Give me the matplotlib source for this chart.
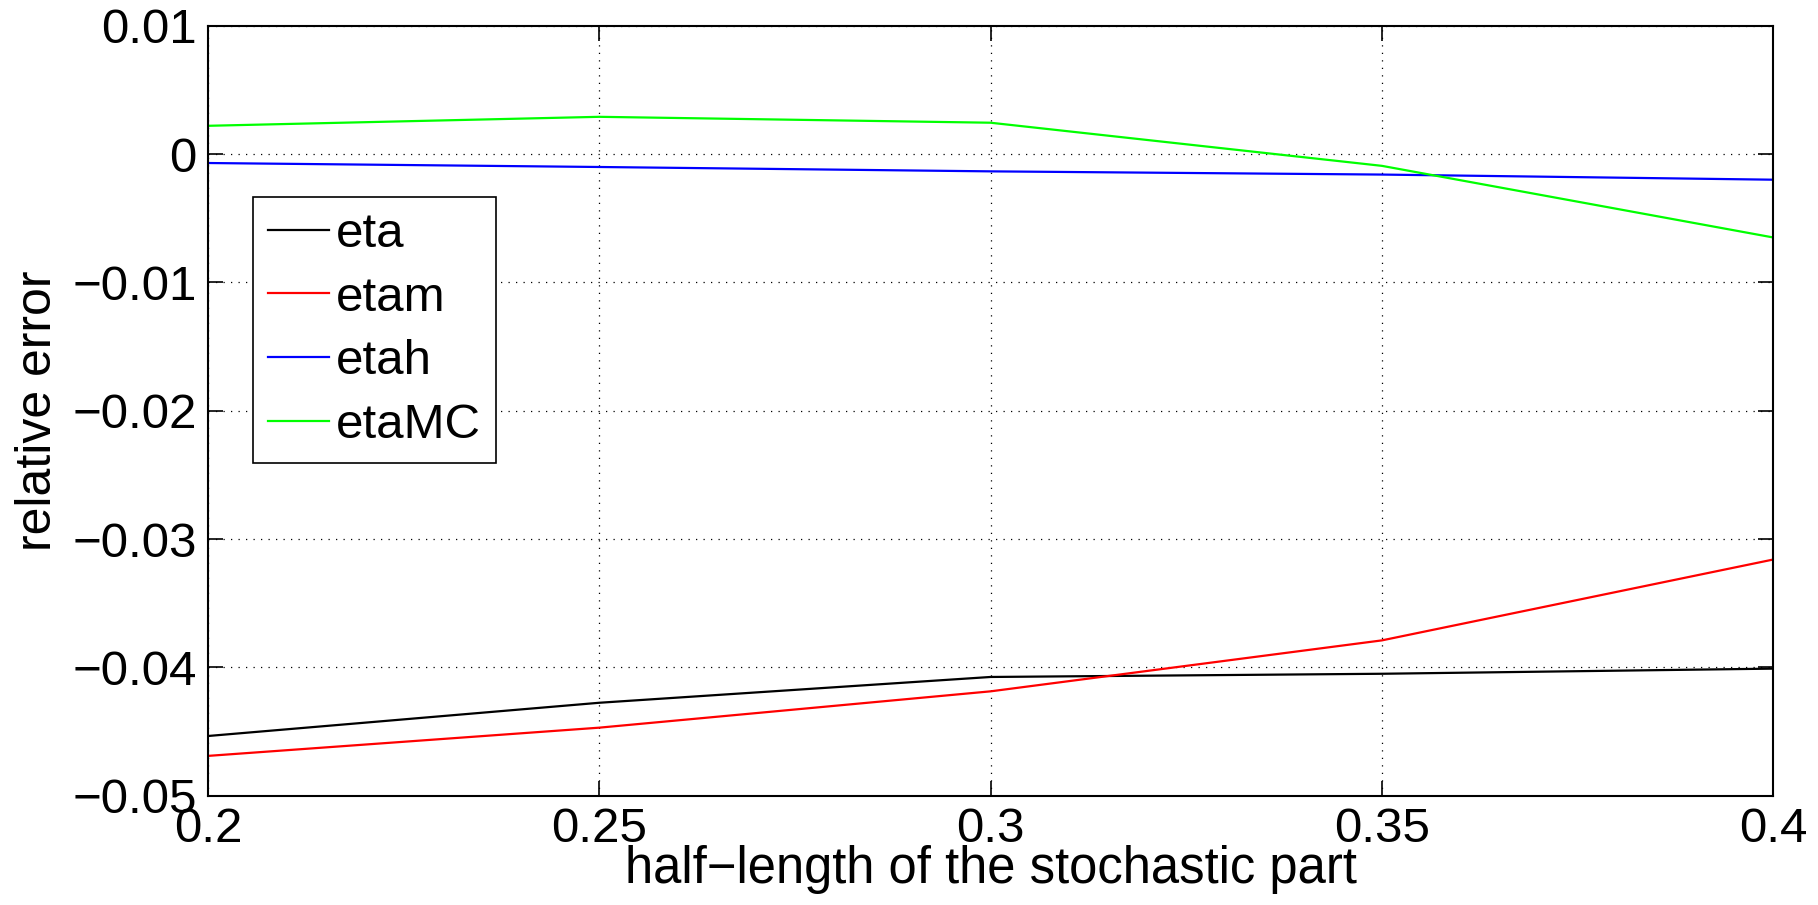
import matplotlib
matplotlib.use("Agg")
import matplotlib.pyplot as plt
from matplotlib.ticker import FixedLocator, FuncFormatter

plt.rcParams['font.family'] = ['Liberation Sans', 'DejaVu Sans']

# half-length values and relative errors of each estimator
half_length = [0.2, 0.25, 0.3, 0.35, 0.4]
eta = [-0.04535, -0.04276, -0.04075, -0.0405, -0.0401]
etam = [-0.0469, -0.0447, -0.04187, -0.0379, -0.0316]
etah = [-0.0007, -0.00101, -0.00135, -0.0016, -0.0020]
etaMC = [0.0022, 0.0029, 0.00244, -0.00092, -0.0065]

series_names = ['eta', 'etam', 'etah', 'etaMC']
series_colors = ['#000000', '#ff0000', '#0000ff', '#00ff00']

x_ticks = [0.2, 0.25, 0.3, 0.35, 0.4]
y_ticks = [-0.05, -0.04, -0.03, -0.02, -0.01, 0.0, 0.01]

fig = plt.figure(figsize=(18.18, 9.05), dpi=100)
ax = fig.add_axes([0.1144, 0.1208, 0.8609, 0.8508])

for vals, name, col in zip([eta, etam, etah, etaMC], series_names, series_colors):
    ax.plot(half_length, vals, color=col, lw=1.6, label=name)

ax.set_xlim(0.2, 0.4)
ax.set_ylim(-0.05, 0.01)
ax.xaxis.set_major_locator(FixedLocator(x_ticks))
ax.yaxis.set_major_locator(FixedLocator(y_ticks))


def fmt(v, pos):
    s = ('%.2f' % v).rstrip('0').rstrip('.')
    if s in ('-0', '0'):
        return '0'
    return s.replace('-', '\u2212')


ax.xaxis.set_major_formatter(FuncFormatter(fmt))
ax.yaxis.set_major_formatter(FuncFormatter(fmt))

ax.grid(True, linestyle=(0, (1, 5)), color='black', linewidth=0.9)
ax.tick_params(direction='in', length=11, width=1.2, labelsize=35.5,
               top=True, right=True, pad=8)
for sp in ax.spines.values():
    sp.set_linewidth(1.5)

ax.set_xlabel('half\u2212length of the stochastic part', fontsize=36.5, labelpad=-5)
ax.set_ylabel('relative error', fontsize=36, labelpad=8)

leg = ax.legend(loc='upper left', bbox_to_anchor=(0.0286, 0.7775),
                borderaxespad=0, fontsize=35.5, handlelength=1.25,
                handletextpad=0.14, borderpad=0.3, labelspacing=0.38,
                fancybox=False, framealpha=1, edgecolor='black')
leg.get_frame().set_linewidth(1.2)

fig.savefig('out.png', dpi=100)
